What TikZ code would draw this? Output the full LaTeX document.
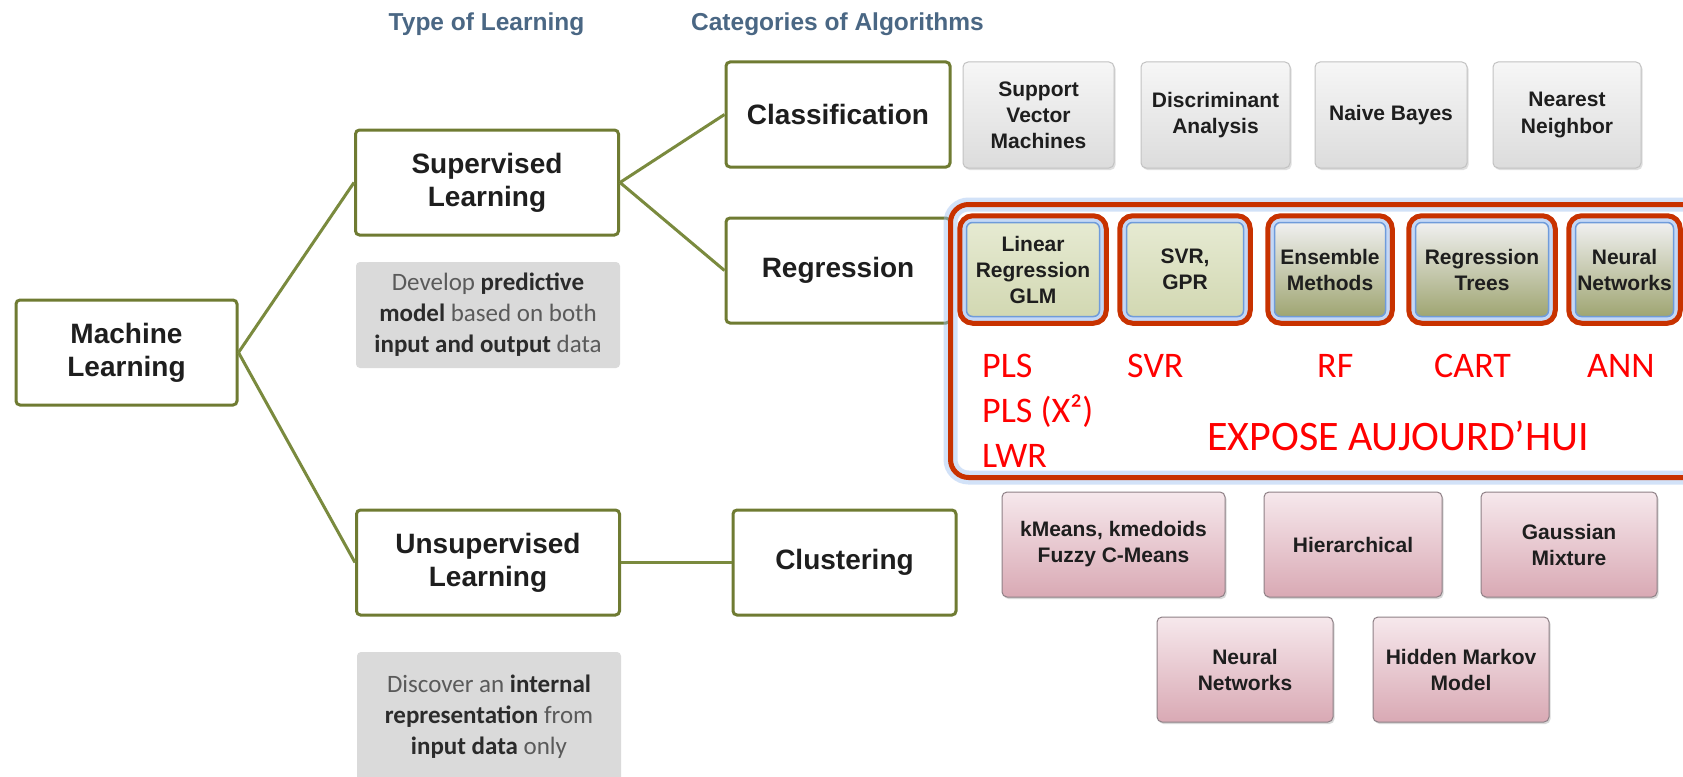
\documentclass[tikz,border=0pt]{standalone}
\usepackage{fontspec}
\setmainfont{Liberation Sans}
\newfontfamily\calfont{Carlito}
\usetikzlibrary{shadows}
\newcommand{\myfs}[2]{\fontsize{#1}{#2}\selectfont}
\definecolor{oliveB}{HTML}{6F7B32}
\definecolor{linkgreen}{HTML}{7A8A3E}
\definecolor{txtblack}{HTML}{1E1E1E}
\definecolor{headblue}{HTML}{4A6784}
\definecolor{descgray}{HTML}{DADADA}
\definecolor{desctext}{HTML}{5A5A5A}
\definecolor{descdark}{HTML}{2B2B2B}
\definecolor{clstop}{HTML}{F6F6F6}
\definecolor{clsbot}{HTML}{DCDCDC}
\definecolor{clsborder}{HTML}{C2C2C2}
\definecolor{regtopA}{HTML}{E6EAD2}
\definecolor{regbotA}{HTML}{D2D8B2}
\definecolor{regtopB}{HTML}{F0F0F0}
\definecolor{regmidB}{HTML}{D9DCC4}
\definecolor{regbotB}{HTML}{9FA572}
\definecolor{regblue}{HTML}{6F9BDA}
\definecolor{glowblue}{HTML}{9DBFF0}
\definecolor{redring}{HTML}{C83200}
\definecolor{clutop}{HTML}{F6E8EC}
\definecolor{clubot}{HTML}{D9A9B4}
\definecolor{cluborder}{HTML}{8E8086}
\definecolor{redtext}{HTML}{FF0000}
\newcommand{\dk}[1]{{\bfseries\color{descdark}#1}}
\begin{document}
\begin{tikzpicture}[x=1pt,y=-1pt,
  mainbox/.style={draw=oliveB, line width=3pt, rounded corners=4pt, fill=white,
    align=center, font=\myfs{28}{33}\bfseries, text=txtblack, inner sep=0pt},
  descbox/.style={fill=descgray, rounded corners=4pt, align=center,
    font=\calfont\myfs{25}{31}, text=desctext, inner sep=0pt},
  link/.style={draw=linkgreen, line width=3pt},
  algtext/.style={align=center, font=\myfs{21}{26}\bfseries, text=txtblack, inner sep=0pt},
  clsalg/.style={algtext, draw=clsborder, line width=1pt, rounded corners=5pt,
    top color=clstop, bottom color=clsbot,
    drop shadow={shadow xshift=1.5pt,shadow yshift=-2pt,opacity=0.25}},
  regA/.style={algtext, draw=regblue, line width=1.5pt, rounded corners=6pt,
    top color=regtopA, bottom color=regbotA,
    preaction={draw=glowblue, line width=9pt, opacity=0.6}},
  regB/.style={algtext, draw=regblue, line width=1.5pt, rounded corners=6pt,
    top color=regtopB, middle color=regmidB, bottom color=regbotB,
    preaction={draw=glowblue, line width=9pt, opacity=0.6}},
  ring/.style={draw=redring, line width=5pt, rounded corners=13pt},
  clualg/.style={algtext, draw=cluborder, line width=1pt, rounded corners=5pt,
    top color=clutop, bottom color=clubot,
    drop shadow={shadow xshift=1.5pt,shadow yshift=-2pt,opacity=0.3}},
  redlab/.style={anchor=base west, inner sep=0pt, text=redtext, font=\calfont\myfs{36}{40}},
  head/.style={anchor=base, inner sep=0pt, text=headblue, font=\myfs{24.5}{28}\bfseries}
]
\useasboundingbox (0,0) rectangle (1683,776);
\clip (0,0) rectangle (1683,776);
\fill[white] (0,0) rectangle (1683,776);

% headers
\node[head] (h1) at (486.5,31) {Type of Learning};
\node[head] (h2) at (837.5,31) {Categories of Algorithms};

% main boxes
\node[mainbox, minimum width=221pt, minimum height=105pt] (ml) at (126.5,352.5) {Machine\\Learning};
\node[mainbox, minimum width=263pt, minimum height=105pt] (sup) at (487,182.5) {Supervised\\Learning};
\node[mainbox, minimum width=263pt, minimum height=105pt] (uns) at (488,562.5) {Unsupervised\\Learning};
\node[mainbox, minimum width=224pt, minimum height=105pt] (cla) at (838,114.5) {Classification};
\node[mainbox, minimum width=224pt, minimum height=105pt] (reg) at (838,270.5) {Regression};
\node[mainbox, minimum width=223pt, minimum height=105pt] (clu) at (844.5,562.5) {Clustering};

% description boxes
\node[descbox, minimum width=264pt, minimum height=106pt] (dev) at (488,315)
  {Develop \dk{predictive}\\\dk{model} based on both\\\dk{input and output} data};
\node[descbox, minimum width=264pt, minimum height=130pt] (dis) at (489,717)
  {Discover an \dk{internal}\\\dk{representation} from\\\dk{input data} only};

% connectors
\draw[link] (ml.east) -- (sup.west);
\draw[link] (ml.east) -- (uns.west);
\draw[link] (sup.east) -- (cla.west);
\draw[link] (sup.east) -- (reg.west);
\draw[link] (uns.east) -- (clu.west);

% classification algorithms
\node[clsalg, minimum width=151pt, minimum height=106pt] (svm) at (1038.5,115) {Support\\Vector\\Machines};
\node[clsalg, minimum width=149pt, minimum height=106pt] (da) at (1215.5,115) {Discriminant\\Analysis};
\node[clsalg, minimum width=152pt, minimum height=106pt] (nb) at (1391,115) {Naive Bayes};
\node[clsalg, minimum width=148pt, minimum height=106pt] (nn) at (1567,115) {Nearest\\Neighbor};

% highlighted regression area
\fill[white] (950.5,204.5) rectangle (1720,477.5);
\draw[glowblue, line width=14pt, opacity=0.45, rounded corners=18pt] (950.5,204.5) rectangle (1720,477.5);
\draw[redring, line width=5pt, rounded corners=18pt] (950.5,204.5) rectangle (1720,477.5);

% regression algorithms
\node[regA, minimum width=133pt, minimum height=94pt] (lr) at (1033,269.5) {Linear\\Regression\\GLM};
\node[regA, minimum width=117pt, minimum height=94pt] (svr) at (1185,269.5) {SVR,\\GPR};
\node[regB, minimum width=111pt, minimum height=94pt] (ens) at (1330,269.5) {Ensemble\\Methods};
\node[regB, minimum width=133pt, minimum height=94pt] (rt) at (1482,269.5) {Regression\\Trees};
\node[regB, minimum width=98pt, minimum height=94pt] (nnr) at (1624.5,269.5) {Neural\\Networks};
\foreach \n in {lr,svr,ens,rt,nnr}
  \draw[ring] ([xshift=-6pt,yshift=6pt]\n.north west) rectangle ([xshift=6pt,yshift=-6pt]\n.south east);

% red labels
\node[redlab] (pls) at (982,377.5) {PLS};
\node[redlab] (pls2) at (982,422.5) {PLS (X²)};
\node[redlab] (lwr) at (982,467.5) {LWR};
\node[redlab] (svrl) at (1127,377.5) {SVR};
\node[redlab] (rf) at (1317,377.5) {RF};
\node[redlab] (cart) at (1434,377.5) {CART};
\node[redlab] (ann) at (1587,377.5) {ANN};
\node[redlab, font=\calfont\myfs{42}{46}] (expo) at (1207,450.5) {EXPOSE AUJOURD’HUI};

% clustering algorithms
\node[clualg, minimum width=223pt, minimum height=105pt] (km) at (1113.5,544.5) {kMeans, kmedoids\\Fuzzy C-Means};
\node[clualg, minimum width=178pt, minimum height=105pt] (hi) at (1353,544.5) {Hierarchical};
\node[clualg, minimum width=176pt, minimum height=105pt] (gm) at (1569,544.5) {Gaussian\\Mixture};
\node[clualg, minimum width=176pt, minimum height=105pt] (nnc) at (1245,669.5) {Neural\\Networks};
\node[clualg, minimum width=176pt, minimum height=105pt] (hmm) at (1461,669.5) {Hidden Markov\\Model};
\end{tikzpicture}
\end{document}
